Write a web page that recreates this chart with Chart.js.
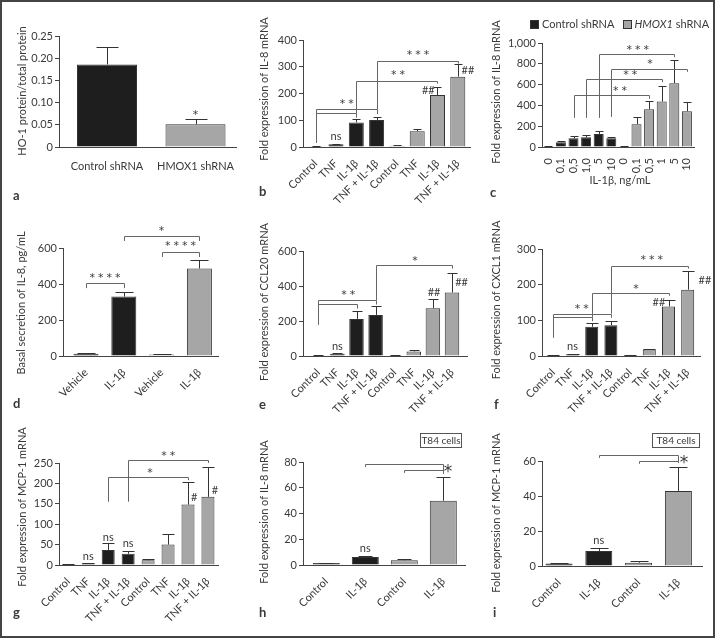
<!DOCTYPE html>
<html>
<head>
<meta charset="utf-8">
<script src="https://cdn.jsdelivr.net/npm/chart.js@4.4.1/dist/chart.umd.min.js"></script>
<style>
  html, body { margin: 0; padding: 0; background: #fff; }
  #fig { position: relative; width: 717px; height: 639px; overflow: hidden; font-family: Lato, "Open Sans", sans-serif; color: #3a3a3a; }
  #fig canvas { position: absolute; left: 0; top: 0; }
  #frame { position: absolute; left: 0; top: 0; width: 711px; height: 634px; border: 2px solid #444; }
  .tag { position: absolute; font-weight: bold; font-size: 13px; line-height: 13px; }
  .box { position: absolute; border: 1px solid #555; font-size: 10px; line-height: 12px; text-align: center; white-space: nowrap; }
  #legend { position: absolute; left: 530px; top: 17px; font-size: 11px; line-height: 13px; white-space: nowrap; }
  #legend .sw { display: inline-block; width: 7px; height: 7px; border: 1px solid #333; margin-right: 3px; vertical-align: -1px; }
</style>
</head>
<body>
<div id="fig">
  <canvas id="ca" width="717" height="639"></canvas>
  <canvas id="cb" width="717" height="639"></canvas>
  <canvas id="cc" width="717" height="639"></canvas>
  <canvas id="cd" width="717" height="639"></canvas>
  <canvas id="ce" width="717" height="639"></canvas>
  <canvas id="cf" width="717" height="639"></canvas>
  <canvas id="cg" width="717" height="639"></canvas>
  <canvas id="ch" width="717" height="639"></canvas>
  <canvas id="ci" width="717" height="639"></canvas>
  <div id="legend"><span class="sw" style="background:#1e1e1e"></span>Control shRNA&nbsp;&nbsp;&nbsp;<span class="sw" style="background:#a6a6a6"></span><i>HMOX1</i> shRNA</div>
  <div class="box" style="left:420px;top:433px;width:40px;height:13px">T84 cells</div>
  <div class="box" style="left:652px;top:433px;width:46px;height:13px">T84 cells</div>
  <div class="tag" style="left:13px;top:189px">a</div>
  <div class="tag" style="left:259px;top:185px">b</div>
  <div class="tag" style="left:490px;top:186px">c</div>
  <div class="tag" style="left:13px;top:397px">d</div>
  <div class="tag" style="left:259px;top:398px">e</div>
  <div class="tag" style="left:494px;top:398px">f</div>
  <div class="tag" style="left:13px;top:606px">g</div>
  <div class="tag" style="left:259px;top:606px">h</div>
  <div class="tag" style="left:493px;top:606px">i</div>
  <div id="frame"></div>
</div>
<script>
// a: HO-1 protein
const aLabels = ["Control shRNA", "HMOX1 shRNA"];
const aGroups = [0, 1];
const aMeans = [0.186, 0.051];
const aSem = [0.039, 0.011];
const aBrackets = [];
const aNotes = [{ i: 1, v: 0.077, t: "*" }];

// shared stimulation categories (b, e, f, g)
const stimLabels = ["Control", "TNF", "IL-1β", "TNF + IL-1β", "Control", "TNF", "IL-1β", "TNF + IL-1β"];
const stimGroups = [0, 0, 0, 0, 1, 1, 1, 1];

// b: IL-8 mRNA
const bMeans = [3, 10, 92, 101, 5, 59, 194, 263];
const bSem = [1, 2, 11, 10, 1, 7, 29, 46];
const bBrackets = [
  { from: 0, to: 3, y: 142, l: 15, r: 123 },
  { from: 0, to: 2, y: 126, l: 126, r: 110 },
  { from: 2, to: 6, y: 247, l: 126, r: 237 },
  { from: 3, to: 7, y: 323, l: 142, r: 312 }
];
const bNotes = [
  { i: 1.53, v: 169, t: "**" }, { i: 4.05, v: 277, t: "**" }, { i: 5.04, v: 351, t: "***" },
  { i: 1, v: 38, t: "ns" }, { i: 5.55, v: 213, t: "##" }, { i: 7.5, v: 285, t: "##" }
];

// c: IL-8 mRNA dose response
const cLabels = ["0", "0,1", "0,5", "1,0", "5", "10", "0", "0,1", "0,5", "1", "5", "10"];
const cGroups = [0, 0, 0, 0, 0, 0, 1, 1, 1, 1, 1, 1];
const cMeans = [5, 45, 84, 93, 125, 84, 8, 219, 363, 437, 614, 344];
const cSem = [1, 13, 25, 20, 26, 12, 2, 70, 78, 151, 222, 84];
const cBrackets = [
  { from: 2, to: 8, y: 499, l: 280, r: 463 },
  { from: 3, to: 9, y: 656, l: 280, r: 624 },
  { from: 5, to: 11, y: 752, l: 289, r: 723 },
  { from: 4, to: 10, y: 894, l: 280, r: 863 }
];
const cNotes = [
  { i: 5.7, v: 559, t: "**" }, { i: 6.5, v: 714, t: "**" }, { i: 8.07, v: 820, t: "*" }, { i: 7.1, v: 958, t: "***" }
];

// d: basal IL-8 secretion
const dLabels = ["Vehicle", "IL-1β", "Vehicle", "IL-1β"];
const dGroups = [0, 0, 1, 1];
const dMeans = [13, 330, 9, 486];
const dSem = [2, 24, 2, 48];
const dBrackets = [
  { from: 0, to: 1, y: 404, l: 377, r: 377 },
  { from: 2, to: 3, y: 580, l: 550, r: 550 },
  { from: 1, to: 3, y: 668, l: 639, r: 639 }
];
const dNotes = [{ i: 0.5, v: 445, t: "****" }, { i: 2.5, v: 622, t: "****" }, { i: 2, v: 705, t: "*" }];

// e: CCL20 mRNA
const eMeans = [3, 13, 212, 235, 3, 26, 273, 363];
const eSem = [1, 2, 45, 49, 1, 6, 51, 114];
const eBrackets = [
  { from: 0, to: 3, y: 320, l: 178, r: 294 },
  { from: 0, to: 2, y: 295, l: 295, r: 271 },
  { from: 3, to: 7, y: 518, l: 320, r: 499 }
];
const eNotes = [
  { i: 1.57, v: 363, t: "**" }, { i: 5.06, v: 558, t: "*" }, { i: 1, v: 54, t: "ns" },
  { i: 6.06, v: 365, t: "##" }, { i: 7.5, v: 420, t: "##" }
];

// f: CXCL1 mRNA
const fMeans = [2, 5, 82, 86, 3, 18, 139, 186];
const fSem = [0.5, 1, 10, 12, 0.5, 2, 18, 51];
const fBrackets = [
  { from: 0, to: 3, y: 118.6, l: 51, r: 107 },
  { from: 0, to: 2, y: 108, l: 108, r: 97.6 },
  { from: 2, to: 6, y: 176.6, l: 108, r: 169 },
  { from: 3, to: 7, y: 253, l: 118.6, r: 245 }
];
const fNotes = [
  { i: 1.48, v: 139, t: "**" }, { i: 4.31, v: 195, t: "*" }, { i: 5.13, v: 275, t: "***" },
  { i: 1, v: 27, t: "ns" }, { i: 5.5, v: 149, t: "##" }, { i: 7.9, v: 211, t: "##" }
];

// g: MCP-1 mRNA
const gMeans = [2, 4, 36.5, 27.6, 11.4, 50, 148, 167];
const gSem = [0.5, 1, 16.5, 7.4, 3.2, 27, 55, 72];
const gBrackets = [
  { from: 2, to: 6, y: 216, l: 155, r: 208 },
  { from: 3, to: 7, y: 258, l: 155, r: 250 }
];
const gNotes = [
  { i: 4.1, v: 232, t: "*" }, { i: 5.01, v: 273, t: "**" },
  { i: 1, v: 21, t: "ns" }, { i: 2, v: 68, t: "ns" }, { i: 3, v: 52, t: "ns" },
  { i: 6.31, v: 166, t: "#" }, { i: 7.35, v: 183, t: "#" }
];

// h, i: T84 cells
const tLabels = ["Control", "IL-1β", "Control", "IL-1β"];
const tGroups = [0, 0, 1, 1];
const hMeans = [1.5, 6.2, 3.6, 49.9];
const hSem = [0.3, 1.0, 1.3, 18.5];
const hBrackets = [
  { from: 1, to: 3, y: 78.8, l: 76.1, r: 71 },
  { from: 2, to: 3, y: 74.1, l: 71.5, r: 71 }
];
const hNotes = [{ i: 3.12, v: 75, t: "*", big: true }, { i: 1, v: 13, t: "ns" }];

const iMeans = [1.4, 8.6, 1.9, 42.9];
const iSem = [0.3, 1.9, 0.8, 13.9];
const iBrackets = [
  { from: 1, to: 3, y: 63.7, l: 61.8, r: 58.9 },
  { from: 2, to: 3, y: 60, l: 58.4, r: 58.9 }
];
const iNotes = [{ i: 3.14, v: 60.8, t: "*", big: true }, { i: 1, v: 14.7, t: "ns" }];

const FONT = 'Lato, "Open Sans", sans-serif';
const STAR = '"DejaVu Sans", sans-serif';
const INK = "#3a3a3a";
const BLACK = "#1e1e1e";
const GRAY = "#a6a6a6";

const marks = {
  id: "marks",
  afterDraw(chart, _args, o) {
    const { ctx } = chart;
    const xs = chart.scales.x;
    const ys = chart.scales.y;
    const pts = chart.data.datasets[0].data;
    const crisp = (v) => Math.round(v) + 0.5;
    ctx.save();
    ctx.lineWidth = 1;
    ctx.strokeStyle = "#333";
    o.sem.forEach((e, i) => {
      const x = crisp(xs.getPixelForValue(i));
      const top = crisp(ys.getPixelForValue(pts[i].y + e));
      ctx.beginPath();
      ctx.moveTo(x, ys.getPixelForValue(pts[i].y));
      ctx.lineTo(x, top);
      ctx.moveTo(x - o.cap, top);
      ctx.lineTo(x + o.cap, top);
      ctx.stroke();
    });
    ctx.strokeStyle = "#666";
    o.brackets.forEach((k) => {
      const xa = crisp(xs.getPixelForValue(k.from));
      const xb = crisp(xs.getPixelForValue(k.to));
      const yy = crisp(ys.getPixelForValue(k.y));
      ctx.beginPath();
      ctx.moveTo(xa, ys.getPixelForValue(k.l));
      ctx.lineTo(xa, yy);
      ctx.lineTo(xb, yy);
      ctx.lineTo(xb, ys.getPixelForValue(k.r));
      ctx.stroke();
    });
    ctx.fillStyle = INK;
    ctx.textAlign = "center";
    ctx.textBaseline = "middle";
    o.notes.forEach((m) => {
      const x = xs.getPixelForValue(m.i);
      const y = ys.getPixelForValue(m.v);
      if (m.t[0] === "*") {
        ctx.font = `${m.big ? 17 : 11}px ${STAR}`;
        const gap = 8.5;
        [...m.t].forEach((c, j) => ctx.fillText(c, x + (j - (m.t.length - 1) / 2) * gap, y + (m.big ? 4 : 2.5)));
      } else {
        ctx.font = `11px ${FONT}`;
        ctx.fillText(m.t, x, y);
      }
    });
    ctx.font = `11px ${FONT}`;
    if (o.xTitle) ctx.fillText(o.xTitle.t, o.xTitle.x, o.xTitle.y);
    ctx.translate(o.titleX, o.titleY);
    ctx.rotate(-Math.PI / 2);
    ctx.fillText(o.title, 0, 0);
    ctx.restore();
  }
};

function panel(id, labels, groups, means, sem, brackets, notes, g) {
  const n = labels.length;
  const last = g.c0 + g.s * (n - 1);
  return new Chart(document.getElementById(id), {
    type: "bar",
    data: {
      datasets: [{
        data: means.map((v, i) => ({ x: i, y: v })),
        backgroundColor: groups.map((k) => (k ? GRAY : BLACK)),
        borderColor: "#333",
        borderWidth: 1,
        barPercentage: g.bw / g.s,
        categoryPercentage: 1
      }]
    },
    options: {
      responsive: false,
      animation: false,
      events: [],
      layout: { padding: { left: 0, top: g.t, right: 717 - g.x1, bottom: 0 } },
      plugins: {
        legend: { display: false },
        tooltip: { enabled: false },
        marks: { sem, brackets, notes, cap: g.cap, title: g.title, titleX: g.tx, titleY: g.ty, xTitle: g.xTitle }
      },
      scales: {
        x: {
          type: "linear",
          offset: false,
          min: -(g.c0 - g.x0) / g.s,
          max: n - 1 + (g.x1 - last) / g.s,
          afterBuildTicks: (s) => { s.ticks = labels.map((_, i) => ({ value: i })); },
          afterFit: (s) => { s.height = 639 - g.b; s.paddingLeft = 0; s.paddingRight = 0; },
          grid: { display: false },
          border: { color: "#444" },
          ticks: {
            autoSkip: false, minRotation: g.rot, maxRotation: g.rot, padding: g.lp,
            color: INK, font: { family: FONT, size: 11 },
            callback: (v, i) => labels[i]
          }
        },
        y: {
          min: 0,
          max: g.max,
          afterFit: (s) => { s.width = g.x0; s.paddingTop = 0; s.paddingBottom = 0; },
          grid: { drawOnChartArea: false, tickLength: 4, color: "#444" },
          border: { color: "#444" },
          ticks: {
            stepSize: g.step, padding: 2, color: INK, font: { family: FONT, size: 11 },
            callback: g.fmt || ((v) => v)
          }
        }
      }
    },
    plugins: [marks]
  });
}

panel("ca", aLabels, aGroups, aMeans, aSem, aBrackets, aNotes, {
  x0: 59, x1: 236, t: 36, b: 147, c0: 107, s: 88.5, bw: 60, cap: 11, rot: 0, lp: 5,
  max: 0.25, step: 0.05, fmt: (v) => (v === 0 ? "0" : v.toFixed(2)),
  title: "HO-1 protein/total protein", tx: 22, ty: 91
});
panel("cb", stimLabels, stimGroups, bMeans, bSem, bBrackets, bNotes, {
  x0: 303, x1: 470, t: 40, b: 147, c0: 315.7, s: 20.3, bw: 15, cap: 4, rot: 45, lp: 2,
  max: 400, step: 100, title: "Fold expression of IL-8 mRNA", tx: 264, ty: 89
});
panel("cc", cLabels, cGroups, cMeans, cSem, cBrackets, cNotes, {
  x0: 542, x1: 694, t: 43, b: 147, c0: 548.3, s: 12.6, bw: 10, cap: 4, rot: 90, lp: 3,
  max: 1000, step: 200, fmt: (v) => v.toLocaleString("en-US"),
  title: "Fold expression of IL-8 mRNA", tx: 496, ty: 92,
  xTitle: { t: "IL-1β, ng/mL", x: 620, y: 180 }
});
panel("cd", dLabels, dGroups, dMeans, dSem, dBrackets, dNotes, {
  x0: 63, x1: 218, t: 248, b: 356, c0: 86, s: 37.8, bw: 25, cap: 9, rot: 45, lp: 2,
  max: 600, step: 200, title: "Basal secretion of IL-8, pg/mL", tx: 21, ty: 303
});
panel("ce", stimLabels, stimGroups, eMeans, eSem, eBrackets, eNotes, {
  x0: 303, x1: 467, t: 251, b: 356, c0: 318.3, s: 19.1, bw: 14.5, cap: 5, rot: 45, lp: 2,
  max: 600, step: 200, title: "Fold expression of CCL20 mRNA", tx: 264, ty: 302
});
panel("cf", stimLabels, stimGroups, fMeans, fSem, fBrackets, fNotes, {
  x0: 542, x1: 700, t: 249, b: 356, c0: 553.3, s: 19.2, bw: 13, cap: 6, rot: 45, lp: 2,
  max: 300, step: 100, title: "Fold expression of CXCL1 mRNA", tx: 496, ty: 300
});
panel("cg", stimLabels, stimGroups, gMeans, gSem, gBrackets, gNotes, {
  x0: 59, x1: 218, t: 463, b: 565, c0: 68.3, s: 19.95, bw: 13, cap: 6, rot: 45, lp: 2,
  max: 250, step: 50, title: "Fold expression of MCP-1 mRNA", tx: 22, ty: 507
});
panel("ch", tLabels, tGroups, hMeans, hSem, hBrackets, hNotes, {
  x0: 303, x1: 465, t: 462, b: 565, c0: 326.3, s: 39, bw: 27, cap: 7, rot: 45, lp: 2,
  max: 80, step: 20, title: "Fold expression of IL-8 mRNA", tx: 264, ty: 512
});
panel("ci", tLabels, tGroups, iMeans, iSem, iBrackets, iNotes, {
  x0: 542, x1: 702, t: 461, b: 566, c0: 559, s: 39.8, bw: 27, cap: 9, rot: 45, lp: 2,
  max: 60, step: 20, title: "Fold expression of MCP-1 mRNA", tx: 496, ty: 513
});
</script>
</body>
</html>
